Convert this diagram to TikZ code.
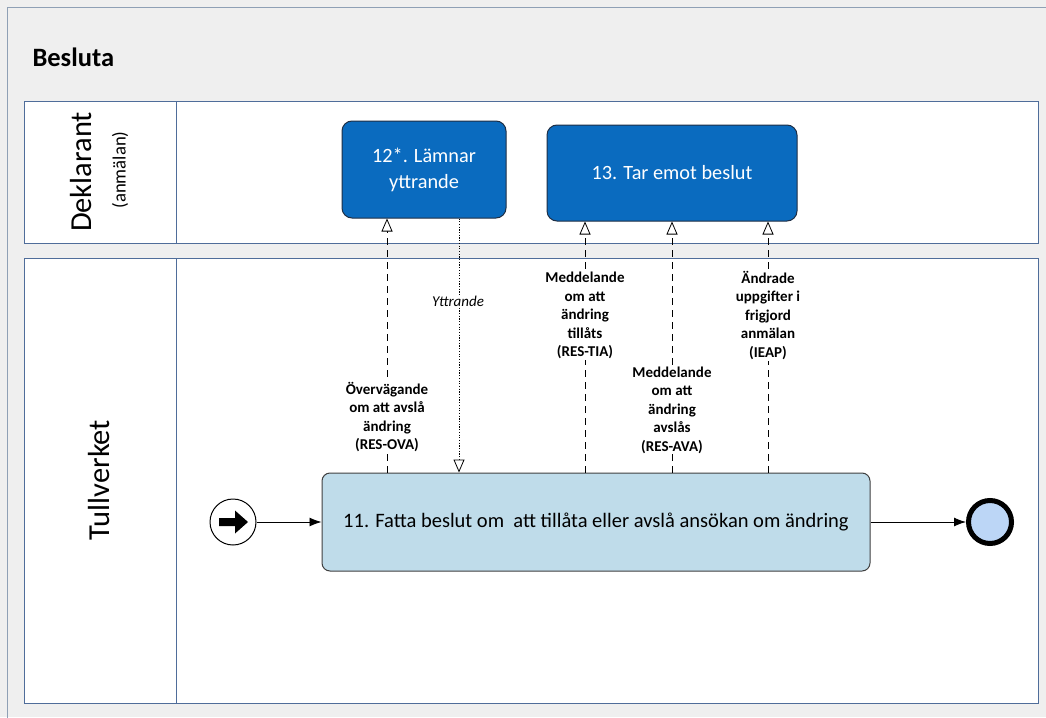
\documentclass[tikz,border=0pt]{standalone}
\usepackage{fontspec}
\setmainfont{Carlito}
\usetikzlibrary{arrows.meta}
\definecolor{bg}{HTML}{EFEFEF}
\definecolor{framec}{HTML}{8FA0B5}
\definecolor{lanec}{HTML}{4F6D9A}
\definecolor{dblue}{HTML}{0A6BBF}
\definecolor{dborder}{HTML}{1F2F45}
\definecolor{lblue}{HTML}{BFDCEA}
\definecolor{endfill}{HTML}{BCD6F6}
\begin{document}
\begin{tikzpicture}[x=1pt,y=-1pt,
  lane/.style={draw=lanec, line width=1pt, fill=white, anchor=north west, inner sep=0pt},
  darkbox/.style={draw=dborder, line width=1pt, fill=dblue, rounded corners=10pt, text=white, align=center, font=\fontsize{20.3}{26}\selectfont},
  lightbox/.style={draw=black!75, line width=1pt, fill=lblue, rounded corners=8pt, align=center, font=\fontsize{20.5}{24}\selectfont},
  msg/.style={line width=0.8pt, -{Triangle[width=11pt,length=13pt,fill=white]}},
  msgdash/.style={msg, dash pattern=on 7pt off 5pt},
  msgdot/.style={msg, dash pattern=on 1.2pt off 1.5pt},
  lbl/.style={fill=white, align=center, inner sep=1pt, font=\fontsize{15}{18.5}\selectfont\bfseries},
  seq/.style={line width=0.9pt, -{Latex[length=12pt,width=9pt]}},
  lanetitle/.style={rotate=90, font=\fontsize{30.5}{34}\selectfont}
]
\useasboundingbox (0,0) rectangle (1046,717);
\clip (0,0) rectangle (1046,717);
\fill[bg] (0,0) rectangle (1046,717);
\draw[framec, line width=1.2pt] (7.5,7.5) rectangle (1070,740);

\node[font=\fontsize{26.5}{30}\selectfont\bfseries, anchor=west] (title) at (29,57) {Besluta};

% lanes
\node[lane, minimum width=1014pt, minimum height=142pt] (dekl) at (24,101) {};
\node[lane, minimum width=1014pt, minimum height=445pt] (tull) at (24,258) {};
\draw[lanec, line width=1pt] (176,101) -- (176,243);
\draw[lanec, line width=1pt] (176,258) -- (176,703);
\node[lanetitle] (dtitle) at (81,172) {Deklarant};
\node[rotate=90, font=\fontsize{18.7}{22}\selectfont] (dsub) at (120,170) {(anmälan)};
\node[lanetitle] (ttitle) at (99,480) {Tullverket};

% tasks
\node[darkbox, minimum width=164pt, minimum height=97pt] (b12) at (424,169.5) {12*. Lämnar\\yttrande};
\node[darkbox, minimum width=250pt, minimum height=96pt] (b13) at (672,173) {13. Tar emot beslut};
\node[lightbox, minimum width=548pt, minimum height=98pt] (b11) at (596,522) {11. Fatta beslut om\ \ att tillåta eller avslå ansökan om ändring};

% events
\node[circle, draw=black, line width=1pt, fill=white, minimum size=46pt, inner sep=0pt] (start) at (233,522) {};
\fill[black] (219,518) -- (235,518) -- (235,510.5) -- (248,522) -- (235,533.5) -- (235,526) -- (219,526) -- cycle;
\node[circle, draw=black, line width=5pt, fill=endfill, minimum size=43pt, inner sep=0pt] (end) at (990,522) {};

\draw[seq] (start) -- (b11);
\draw[seq] (b11) -- (end);

% message flows
\coordinate (xova) at (387,0);
\coordinate (xytt) at (459,0);
\coordinate (xtia) at (585,0);
\coordinate (xava) at (672,0);
\coordinate (xieap) at (768,0);

\draw[msgdash] (b11.north -| xova) -- (b12.south -| xova);
\draw[msgdot] (b12.south -| xytt) -- (b11.north -| xytt);
\draw[msgdash] (b11.north -| xtia) -- (b13.south -| xtia);
\draw[msgdash] (b11.north -| xava) -- (b13.south -| xava);
\draw[msgdash] (b11.north -| xieap) -- (b13.south -| xieap);

\node[lbl] (lova) at (387,417) {Övervägande\\om att avslå\\ändring\\(RES-OVA)};
\node[fill=white, inner sep=1pt, font=\fontsize{15}{18}\selectfont\itshape] (lytt) at (458,301) {Yttrande};
\node[lbl] (ltia) at (585,315.5) {Meddelande\\om att\\ändring\\tillåts\\(RES-TIA)};
\node[lbl] (lava) at (672,410) {Meddelande\\om att\\ändring\\avslås\\(RES-AVA)};
\node[lbl] (lieap) at (768,315.5) {Ändrade\\uppgifter i\\frigjord\\anmälan\\(IEAP)};
\end{tikzpicture}
\end{document}
